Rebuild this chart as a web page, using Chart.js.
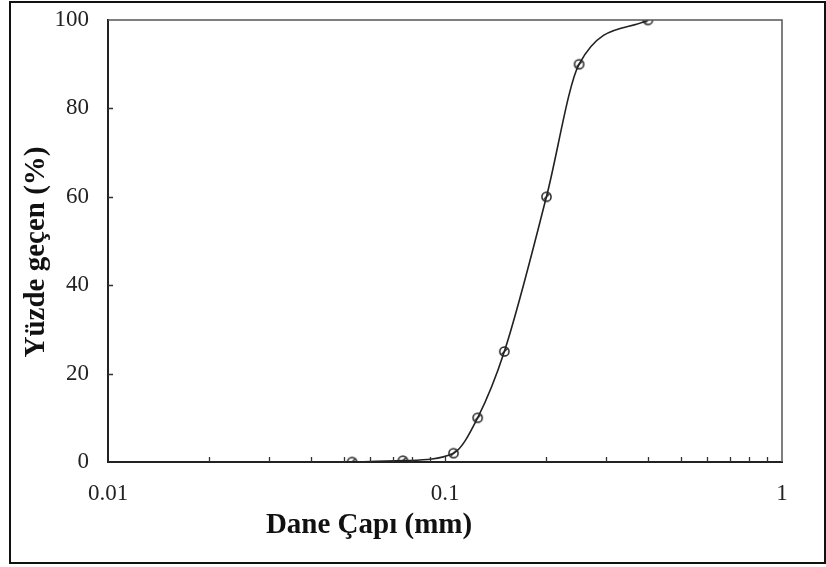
<!DOCTYPE html>
<html>
<head>
<meta charset="utf-8">
<script src="https://cdn.jsdelivr.net/npm/chart.js@4/dist/chart.umd.min.js"></script>
<style>
  html, body { margin: 0; padding: 0; background: #fff; }
  canvas { display: block; }
</style>
</head>
<body>
<canvas id="gradChart" width="826" height="567"></canvas>
<script>
// elek analizi verileri
const grainSize = [0.053, 0.075, 0.106, 0.125, 0.15, 0.2, 0.25, 0.4];
const percentPassing = [0, 0.3, 2, 10, 25, 60, 90, 100];
const xTicks = [0.01, 0.02, 0.03, 0.04, 0.05, 0.06, 0.07, 0.08, 0.09,
                0.1, 0.2, 0.3, 0.4, 0.5, 0.6, 0.7, 0.8, 0.9, 1];
const xLabels = ['0.01', '0.1', '1'];
const yTicks = [0, 20, 40, 60, 80, 100];
const xTitle = 'Dane Çapı (mm)';
const yTitle = 'Yüzde geçen (%)';

const tickFont = { family: "'Liberation Serif', serif", size: 23 };
const titleFont = "bold 29px 'Liberation Serif', serif";

// marker: circle with a slash
function makeMarker() {
    const c = document.createElement('canvas');
    c.width = 13; c.height = 13;
    const g = c.getContext('2d');
    g.strokeStyle = '#222';
    g.lineWidth = 1.5;
    g.beginPath();
    g.arc(6.5, 6.5, 4.6, 0, Math.PI * 2);
    g.stroke();
    g.beginPath();
    g.moveTo(3.5, 9.5);
    g.lineTo(9.5, 3.5);
    g.stroke();
    return c;
}

const decor = {
    id: 'decor',
    beforeDraw(chart) {
        const ctx = chart.ctx;
        ctx.save();
        ctx.fillStyle = '#fff';
        ctx.fillRect(0, 0, chart.width, chart.height);
        ctx.restore();
    },
    afterDraw(chart) {
        const { ctx, chartArea: a, scales } = chart;
        const x = scales.x, y = scales.y;
        ctx.save();
        // top / right plot border
        ctx.strokeStyle = '#555';
        ctx.lineWidth = 1.5;
        ctx.beginPath();
        ctx.moveTo(a.left, a.top);
        ctx.lineTo(a.right, a.top);
        ctx.lineTo(a.right, a.bottom);
        ctx.stroke();
        // inward ticks
        ctx.strokeStyle = '#333';
        ctx.lineWidth = 1.3;
        ctx.beginPath();
        x.ticks.forEach(t => {
            if (t.value <= 0.01 || t.value >= 1) return;
            const px = Math.round(x.getPixelForValue(t.value)) + 0.5;
            ctx.moveTo(px, a.bottom);
            ctx.lineTo(px, a.bottom - 5);
        });
        y.ticks.forEach(t => {
            if (t.value <= 0 || t.value >= 100) return;
            const py = Math.round(y.getPixelForValue(t.value)) + 0.5;
            ctx.moveTo(a.left, py);
            ctx.lineTo(a.left + 5, py);
        });
        ctx.stroke();
        // axis titles
        ctx.fillStyle = '#111';
        ctx.font = titleFont;
        ctx.textAlign = 'center';
        ctx.textBaseline = 'middle';
        ctx.fillText(xTitle, a.left + 261, 526);
        ctx.translate(37, 252);
        ctx.rotate(-Math.PI / 2);
        ctx.fillText(yTitle, 0, 0);
        ctx.restore();
        // outer frame
        ctx.save();
        ctx.strokeStyle = '#111';
        ctx.lineWidth = 2;
        ctx.strokeRect(10, 2, 815, 561);
        ctx.restore();
    }
};

new Chart(document.getElementById('gradChart'), {
    type: 'line',
    data: {
        datasets: [{
            data: grainSize.map((v, i) => ({ x: v, y: percentPassing[i] })),
            borderColor: '#222',
            borderWidth: 1.6,
            cubicInterpolationMode: 'monotone',
            pointStyle: makeMarker(),
            pointRadius: 6,
            fill: false
        }]
    },
    options: {
        responsive: false,
        animation: false,
        devicePixelRatio: 1,
        layout: { padding: { top: 20, right: 44, left: 0, bottom: 0 } },
        plugins: { legend: { display: false }, tooltip: { enabled: false } },
        scales: {
            x: {
                type: 'logarithmic',
                min: 0.01,
                max: 1,
                afterBuildTicks: s => { s.ticks = xTicks.map(v => ({ value: v })); },
                afterFit: s => { s.height = 105; s.paddingLeft = 0; s.paddingRight = 0; },
                grid: { display: false },
                border: { display: true, color: '#222', width: 2 },
                ticks: {
                    autoSkip: false,
                    maxRotation: 0,
                    padding: 10,
                    color: '#222',
                    font: tickFont,
                    callback: v => {
                        const s = String(+v.toFixed(3));
                        return xLabels.includes(s) ? s : '';
                    }
                }
            },
            y: {
                min: 0,
                max: 100,
                afterBuildTicks: s => { s.ticks = yTicks.map(v => ({ value: v })); },
                afterFit: s => { s.width = 108; s.paddingTop = 0; s.paddingBottom = 0; },
                grid: { display: false },
                border: { display: true, color: '#222', width: 2 },
                ticks: {
                    padding: 11,
                    color: '#222',
                    font: tickFont
                }
            }
        }
    },
    plugins: [decor]
});
</script>
</body>
</html>
